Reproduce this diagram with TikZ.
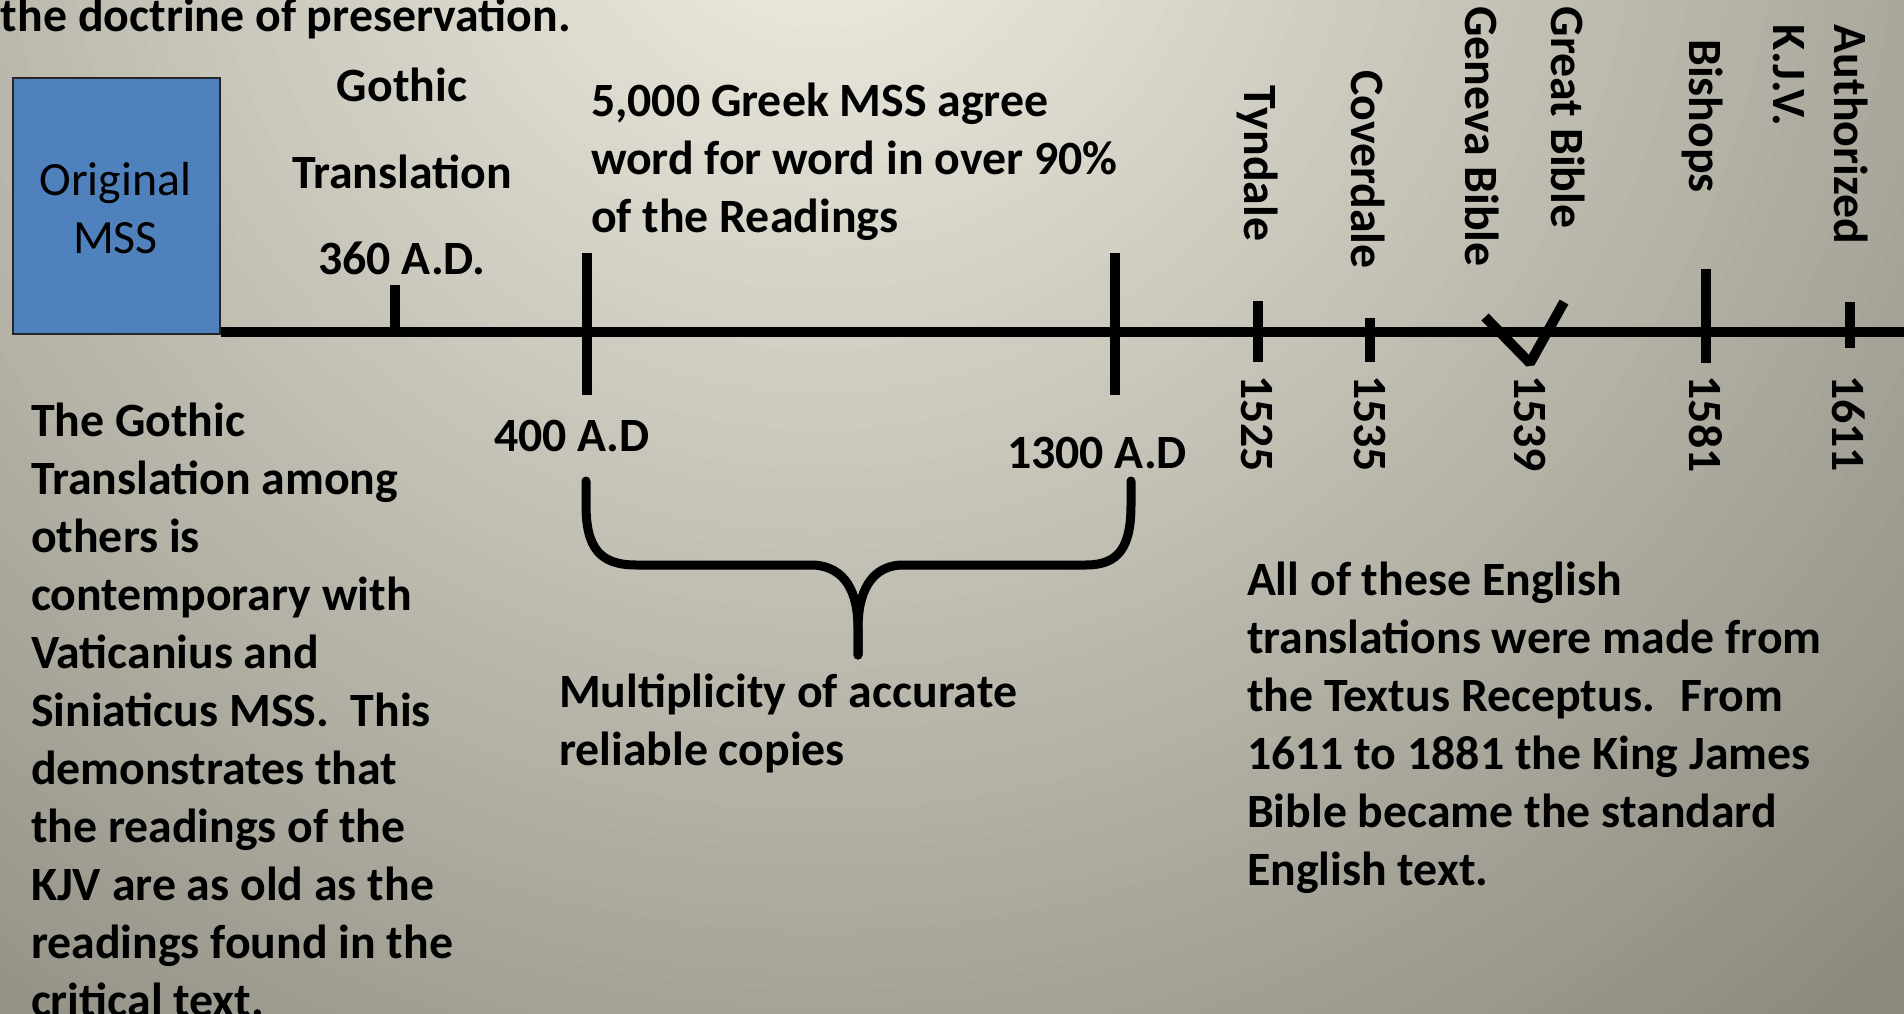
\documentclass[tikz,border=0pt]{standalone}
\usepackage{fontspec}
\setmainfont{Carlito}
\definecolor{bgLight}{RGB}{236,234,222}
\definecolor{bgDark}{RGB}{140,138,126}
\definecolor{boxBlue}{RGB}{79,129,189}
\newcommand{\linesL}[1]{\begin{tabular}[t]{@{}l@{}}#1\end{tabular}}
\newcommand{\linesC}[1]{\begin{tabular}[t]{@{}c@{}}#1\end{tabular}}
\begin{document}
\begin{tikzpicture}[x=1pt,y=-1pt,
  txt/.style={inner sep=0pt, outer sep=0pt, text=black, font=\fontsize{47.8}{58}\selectfont\bfseries},
  txtreg/.style={inner sep=0pt, outer sep=0pt, text=black, font=\fontsize{47.8}{58}\selectfont\mdseries},
  vlabel/.style={txt, rotate=-90, anchor=center},
  axisline/.style={line width=10pt, draw=black},
  tickline/.style={line width=10pt, draw=black},
  bracestyle/.style={line width=9pt, draw=black, line cap=round, line join=round},
  boxstyle/.style={draw=black!85, line width=2pt, fill=boxBlue, inner sep=0pt, minimum width=207pt, minimum height=256pt, anchor=north west}]
\useasboundingbox (0,0) rectangle (1904,1014);
% background
\begin{scope}
\clip (0,0) rectangle (1904,1014);
\foreach \i in {0,...,80}{
  \pgfmathsetmacro\rr{1700-20*\i}
  \pgfmathsetmacro\pp{max(0,min(100,(\rr-100)/14.6))}
  \fill[bgDark!\pp!bgLight] (820,-150) circle[radius=\rr pt];
}
\end{scope}

% top text
\node[txt, anchor=base west] (doctrine) at (1,32) {the doctrine of preservation.};

% original MSS box
\node[boxstyle] (origbox) at (12,77) {};
\node[txtreg, anchor=base] (origtext) at (115.5,195.5) {\linesC{Original\\MSS}};

% timeline
\coordinate (a0) at (origbox.east |- 0,332);
\coordinate (a1) at (1904,332);
\draw[axisline] (a0) -- (a1);

% ticks
\coordinate (t360a) at (395,285);  \coordinate (t360b) at (395,332);
\coordinate (t400a) at (587,253);  \coordinate (t400b) at (587,395);
\coordinate (t1300a) at (1115,253); \coordinate (t1300b) at (1115,395);
\coordinate (t1525a) at (1258,301); \coordinate (t1525b) at (1258,362);
\coordinate (t1535a) at (1370,318); \coordinate (t1535b) at (1370,362);
\coordinate (t1581a) at (1706,269); \coordinate (t1581b) at (1706,363);
\coordinate (t1611a) at (1850,302); \coordinate (t1611b) at (1850,348);
\draw[tickline] (t360a) -- (t360b);
\draw[tickline] (t400a) -- (t400b);
\draw[tickline] (t1300a) -- (t1300b);
\draw[tickline] (t1525a) -- (t1525b);
\draw[tickline] (t1535a) -- (t1535b);
\draw[tickline] (t1581a) -- (t1581b);
\draw[tickline] (t1611a) -- (t1611b);
% V mark for 1539
\coordinate (vL) at (1485,317); \coordinate (vB) at (1530,363); \coordinate (vR) at (1564,302);
\draw[tickline, line join=bevel] (vL) -- (vB) -- (vR);

% labels above the line
\node[txt, anchor=base] (gothic) at (402,102) {\linesC{Gothic\\[28.5pt] Translation\\[28.5pt] 360 A.D.}};
\node[txt, anchor=base west] (greek) at (591,116.5) {\linesL{5,000 Greek MSS agree\\ word for word in over 90\%\\ of the Readings}};
\node[txt, anchor=base west] (ad400) at (494,451) {400 A.D};
\node[txt, anchor=base west] (ad1300) at (1007,468) {1300 A.D};

% brace
\coordinate (bL) at (586,481);
\coordinate (bR) at (1131,481);
\coordinate (bTip) at (858,655);
\draw[bracestyle] (bL) -- (586,505) .. controls (586,548) and (600,565) .. (636,565) -- (814,565) .. controls (845,567) and (858,592) .. (858,628) -- (bTip);
\draw[bracestyle] (bR) -- (1131,505) .. controls (1131,548) and (1118,565) .. (1086,565) -- (900,565) .. controls (871,567) and (858,592) .. (858,628) -- (bTip);
\node[txt, anchor=base west] (multi) at (559,707) {\linesL{Multiplicity of accurate\\ reliable copies}};

% paragraphs
\node[txt, anchor=base west] (leftpara) at (31,436) {\linesL{The Gothic\\ Translation among\\ others is\\ contemporary with\\ Vaticanius and\\ Siniaticus MSS.~ This\\ demonstrates that\\ the readings of the\\ KJV are as old as the\\ readings found in the\\ critical text.}};
\node[txt, anchor=base west] (rightpara) at (1247,595.5) {\linesL{All of these English\\ translations were made from\\ the Textus Receptus.~ From\\ 1611 to 1881 the King James\\ Bible became the standard\\ English text.}};

% vertical labels
\node[vlabel] (tyndale) at (1257,163.5) {Tyndale};
\node[vlabel] (coverdale) at (1368,169.5) {Coverdale};
\node[vlabel] (geneva) at (1482,136.5) {Geneva Bible};
\node[vlabel] (great) at (1568,117.5) {Great Bible};
\node[vlabel] (bishops) at (1702,116) {Bishops};
\node[txt, rotate=-90, anchor=base west] (kjv) at (1834,25) {\linesL{Authorized\\[3pt] K.J.V.}};

\node[vlabel] (y1525) at (1257,423.5) {1525};
\node[vlabel] (y1535) at (1370,423.5) {1535};
\node[vlabel] (y1539) at (1530,423.5) {1539};
\node[vlabel] (y1581) at (1706,424) {1581};
\node[vlabel] (y1611) at (1849,423.5) {1611};
\end{tikzpicture}
\end{document}
